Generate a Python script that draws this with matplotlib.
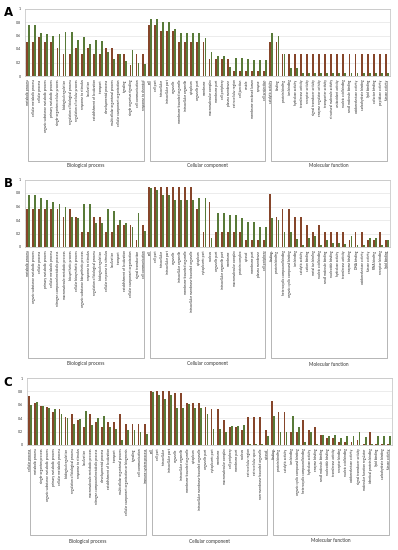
import matplotlib
matplotlib.use("Agg")
import matplotlib.pyplot as plt
from matplotlib.transforms import blended_transform_factory
from matplotlib.lines import Line2D

plt.rcParams['font.family'] = ['Lato', 'DejaVu Sans']

groups = ["Biological process", "Cellular component", "Molecular function"]
yticks = [0, 0.2, 0.4, 0.6, 0.8, 1]
yticklabels = ["0", "0.2", "0.4", "0.6", "0.8", "1"]
panel_letters = ["A", "B", "C"]

bp_terms_a = ["metabolic process", "cellular metabolic process", "cellular process",
              "organic substance metabolic process", "primary metabolic process",
              "single-organism cellular process", "biological regulation",
              "regulation of biological process", "regulation of cellular process",
              "response to stimulus", "localization", "establishment of localization",
              "transport", "developmental process", "multicellular organismal process",
              "cellular component organization", "signaling", "single organism signaling",
              "cell communication", "response to chemical"]
cc_terms_a = ["cell", "cell part", "intracellular", "intracellular part", "organelle",
              "membrane-bounded organelle", "intracellular organelle", "cytoplasm",
              "organelle part", "membrane", "macromolecular complex", "membrane part",
              "cell periphery", "plasma membrane", "extracellular region", "cell junction",
              "vesicle", "membrane-enclosed lumen", "synapse", "cell projection"]
mf_terms_a = ["catalytic activity", "binding", "protein binding", "ion binding",
              "hydrolase activity", "transferase activity", "receptor activity",
              "signal transducer activity", "enzyme regulator activity", "transporter activity",
              "structural molecule activity", "antioxidant activity", "nucleic acid binding",
              "small molecule binding", "oxidoreductase activity", "carbohydrate binding",
              "lipid binding", "cofactor binding", "peptidase activity", "kinase activity"]

bp_terms_b = ["metabolic process", "organic substance metabolic process", "cellular process",
              "primary metabolic process", "cellular metabolic process",
              "nitrogen compound metabolic process", "macromolecule metabolic process",
              "biosynthetic process", "cellular biosynthetic process",
              "organic substance biosynthetic process", "response to stimulus",
              "regulation of biological process", "biological regulation",
              "cellular response to stimulus", "localization", "transport",
              "establishment of localization", "cellular component organization",
              "signal transduction", "cell communication"]
cc_terms_b = ["cell", "cell part", "intracellular", "intracellular part", "organelle",
              "intracellular organelle", "membrane-bounded organelle",
              "intracellular membrane-bounded organelle", "cytoplasm", "cytoplasmic part",
              "nucleus", "organelle part", "intracellular organelle part", "membrane",
              "macromolecular complex", "protein complex", "cytosol", "membrane part",
              "plasma membrane", "cell periphery"]
mf_terms_b = ["binding", "protein binding", "heterocyclic compound binding",
              "organic cyclic compound binding", "ion binding", "catalytic activity",
              "cation binding", "metal ion binding", "nucleic acid binding",
              "small molecule binding", "nucleotide binding", "hydrolase activity",
              "transferase activity", "enzyme binding", "DNA binding",
              "oxidoreductase activity", "kinase activity", "RNA binding",
              "receptor binding", "lipid binding"]

bp_terms_c = ["cellular process", "metabolic process", "single-organism process",
              "organic substance metabolic process", "primary metabolic process",
              "cellular metabolic process", "biological regulation",
              "regulation of biological process", "response to stimulus",
              "localization", "macromolecule metabolic process",
              "nitrogen compound metabolic process", "developmental process",
              "establishment of localization", "transport", "multicellular organismal process",
              "cellular component organization or biogenesis", "signaling",
              "cell communication", "immune system process"]
cc_terms_c = ["cell", "cell part", "intracellular", "intracellular part", "organelle",
              "intracellular organelle", "membrane-bounded organelle", "cytoplasm",
              "intracellular membrane-bounded organelle", "organelle part",
              "cytoplasmic part", "membrane", "macromolecular complex", "cell periphery",
              "membrane part", "nucleus", "extracellular region", "extracellular space",
              "non-membrane-bounded organelle", "cytosol"]
mf_terms_c = ["binding", "protein binding", "catalytic activity", "ion binding",
              "organic cyclic compound binding", "heterocyclic compound binding",
              "hydrolase activity", "enzyme binding", "small molecule binding",
              "nucleotide binding", "transferase activity", "receptor binding",
              "nucleic acid binding", "oxidoreductase activity", "signal transducer activity",
              "molecular function regulator", "identical protein binding",
              "lipid binding", "carbohydrate binding", "kinase activity"]

a_s1 = [0.50, 0.50, 0.58, 0.50, 0.50, 0.42, 0.33, 0.33, 0.42, 0.33,
        0.42, 0.33, 0.33, 0.42, 0.42, 0.33, 0.33, 0.17, 0.33, 0.33,
        0.75, 0.75, 0.67, 0.67, 0.67, 0.50, 0.50, 0.50, 0.50, 0.50,
        0.25, 0.25, 0.25, 0.25, 0.08, 0.08, 0.08, 0.08, 0.08, 0.08,
        0.50, 0.50, 0.33, 0.33, 0.33, 0.33, 0.33, 0.33, 0.33, 0.33,
        0.33, 0.33, 0.33, 0.33, 0.33, 0.33, 0.33, 0.33, 0.33, 0.33]
a_s2 = [0.76, 0.76, 0.63, 0.62, 0.60, 0.62, 0.65, 0.65, 0.53, 0.58,
        0.48, 0.53, 0.52, 0.35, 0.25, 0.33, 0.22, 0.38, 0.20, 0.18,
        0.84, 0.84, 0.80, 0.80, 0.70, 0.63, 0.63, 0.63, 0.63, 0.56,
        0.35, 0.29, 0.29, 0.14, 0.26, 0.26, 0.25, 0.24, 0.24, 0.24,
        0.64, 0.60, 0.33, 0.12, 0.12, 0.05, 0.05, 0.05, 0.05, 0.05,
        0.05, 0.05, 0.05, 0.05, 0.05, 0.05, 0.05, 0.05, 0.05, 0.05]

b_s1 = [0.56, 0.56, 0.56, 0.56, 0.56, 0.56, 0.44, 0.56, 0.44, 0.22,
        0.22, 0.44, 0.44, 0.22, 0.22, 0.33, 0.33, 0.33, 0.10, 0.33,
        0.89, 0.89, 0.89, 0.89, 0.89, 0.89, 0.89, 0.89, 0.56, 0.22,
        0.67, 0.22, 0.22, 0.22, 0.22, 0.22, 0.11, 0.11, 0.11, 0.11,
        0.78, 0.44, 0.56, 0.56, 0.44, 0.44, 0.33, 0.22, 0.33, 0.22,
        0.22, 0.22, 0.22, 0.11, 0.22, 0.22, 0.11, 0.11, 0.22, 0.11]
b_s2 = [0.77, 0.77, 0.73, 0.70, 0.67, 0.63, 0.60, 0.44, 0.43, 0.63,
        0.63, 0.36, 0.36, 0.56, 0.53, 0.40, 0.36, 0.30, 0.50, 0.24,
        0.88, 0.84, 0.77, 0.77, 0.70, 0.70, 0.70, 0.70, 0.73, 0.73,
        0.13, 0.50, 0.50, 0.47, 0.47, 0.43, 0.37, 0.37, 0.30, 0.30,
        0.43, 0.40, 0.22, 0.22, 0.12, 0.03, 0.13, 0.17, 0.03, 0.10,
        0.06, 0.06, 0.05, 0.16, 0.03, 0.03, 0.13, 0.13, 0.03, 0.10]

c_s1 = [0.73, 0.62, 0.58, 0.57, 0.50, 0.53, 0.42, 0.46, 0.38, 0.27,
        0.46, 0.35, 0.27, 0.35, 0.35, 0.46, 0.31, 0.31, 0.31, 0.31,
        0.81, 0.81, 0.81, 0.81, 0.77, 0.77, 0.62, 0.62, 0.62, 0.57,
        0.54, 0.54, 0.38, 0.27, 0.27, 0.23, 0.42, 0.42, 0.42, 0.23,
        0.65, 0.50, 0.50, 0.20, 0.20, 0.38, 0.23, 0.27, 0.15, 0.11,
        0.11, 0.04, 0.04, 0.04, 0.07, 0.02, 0.19, 0.02, 0.02, 0.02]
c_s2 = [0.60, 0.64, 0.58, 0.55, 0.54, 0.47, 0.40, 0.31, 0.39, 0.51,
        0.30, 0.40, 0.43, 0.27, 0.24, 0.08, 0.23, 0.23, 0.19, 0.17,
        0.79, 0.74, 0.68, 0.74, 0.55, 0.55, 0.61, 0.55, 0.55, 0.47,
        0.24, 0.24, 0.19, 0.28, 0.28, 0.30, 0.02, 0.02, 0.02, 0.13,
        0.44, 0.20, 0.20, 0.43, 0.27, 0.05, 0.19, 0.02, 0.15, 0.14,
        0.15, 0.11, 0.13, 0.14, 0.19, 0.12, 0.02, 0.14, 0.14, 0.14]

panels = [
    (bp_terms_a + cc_terms_a + mf_terms_a, a_s1, a_s2, [len(bp_terms_a), len(cc_terms_a), len(mf_terms_a)]),
    (bp_terms_b + cc_terms_b + mf_terms_b, b_s1, b_s2, [len(bp_terms_b), len(cc_terms_b), len(mf_terms_b)]),
    (bp_terms_c + cc_terms_c + mf_terms_c, c_s1, c_s2, [len(bp_terms_c), len(cc_terms_c), len(mf_terms_c)]),
]

W, H = 398, 550
fig = plt.figure(figsize=(W / 100, H / 100), dpi=100)

# pixel layout: (left, right, top, baseline, bracket_top, bracket_bottom, group_text_y, letter_y)
layout = [
    (25, 390, 8.5, 76, 81, 161, 166, 13),
    (25, 390, 179.5, 247, 251, 358, 364, 184),
    (27, 392, 378, 445, 449, 535, 541, 383),
]

col1 = "#86452A"
col2 = "#587A38"
frame_col = "#BFBFBF"

for (terms, s1, s2, sizes), (l, r, t, b, bt, bb, gy, ly), letter in zip(panels, layout, panel_letters):
    ax = fig.add_axes([l / W, 1 - b / H, (r - l) / W, (b - t) / H])
    n = len(terms)
    x = list(range(n))
    w = 0.3
    ax.bar([i - 0.16 for i in x], s1, width=w, color=col1, linewidth=0)
    ax.bar([i + 0.16 for i in x], s2, width=w, color=col2, linewidth=0)
    ax.set_xlim(-0.5, n - 0.5)
    ax.set_ylim(0, 1)
    ax.set_yticks(yticks)
    ax.set_yticklabels(yticklabels, fontsize=2.6, color="#333333")
    ax.yaxis.grid(True, color="#DDDDDD", linewidth=0.4)
    ax.set_axisbelow(True)
    ax.set_xticks(x)
    ax.set_xticklabels(terms, rotation=90, fontsize=2.3, va="top", ha="center", color="#222222")
    ax.tick_params(axis="both", length=0, pad=2.5)
    ax.tick_params(axis="y", pad=3)
    for sp in ax.spines.values():
        sp.set_color(frame_col)
        sp.set_linewidth(0.5)

    tr = blended_transform_factory(ax.transData, fig.transFigure)
    start = 0
    for g, sz in zip(groups, sizes):
        x0, x1 = start, start + sz - 1
        y_top = 1 - bt / H
        y_bot = 1 - bb / H
        fig.add_artist(Line2D([x0, x0, x1, x1], [y_top, y_bot, y_bot, y_top],
                              transform=tr, color="#7F7F7F", linewidth=0.4))
        fig.text((x0 + x1) / 2, 1 - gy / H, g, transform=tr, fontsize=3.4,
                 ha="center", va="center", color="#333333")
        start += sz

    fig.text(8 / W, 1 - ly / H, letter, fontsize=8.5, fontweight="bold",
             ha="center", va="center", family="DejaVu Sans")

fig.savefig("out.png", dpi=100)
